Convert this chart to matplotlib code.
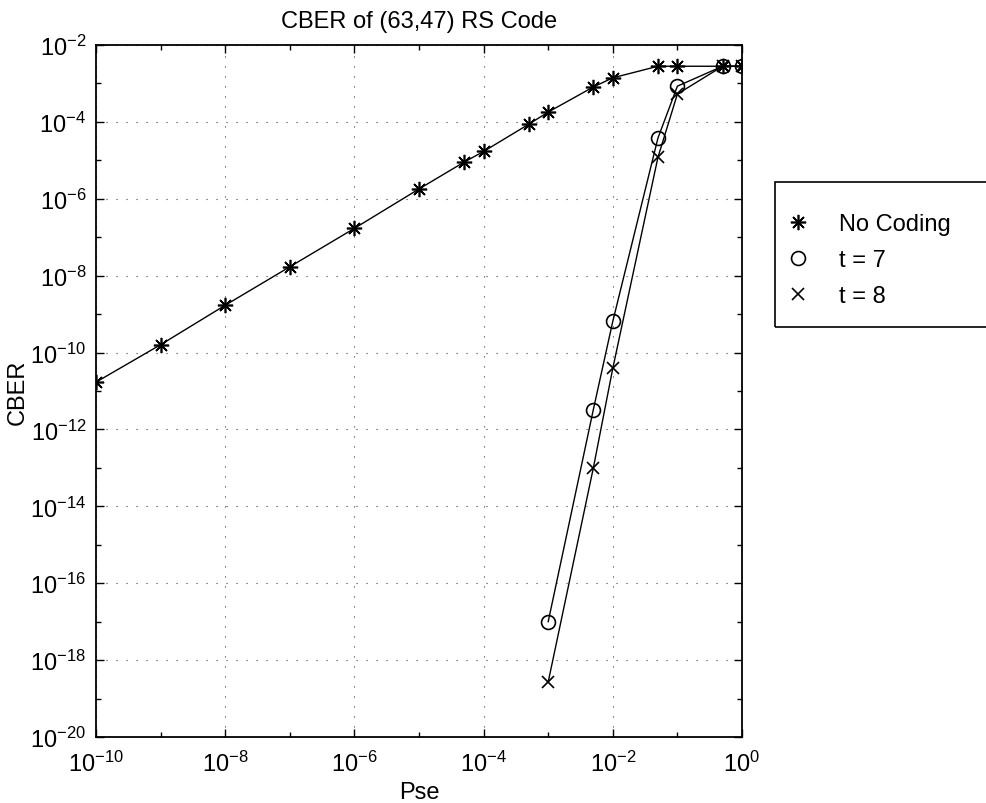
import numpy as np
import matplotlib
matplotlib.use("Agg")
import matplotlib.pyplot as plt
from matplotlib.ticker import NullFormatter
from matplotlib.patches import Rectangle

plt.rcParams['font.family'] = ['Liberation Sans', 'DejaVu Sans']
plt.rcParams['mathtext.fontset'] = 'custom'
plt.rcParams['mathtext.rm'] = 'Liberation Sans'
plt.rcParams['mathtext.it'] = 'Liberation Sans:italic'
plt.rcParams['mathtext.bf'] = 'Liberation Sans:bold'

# valores
pse_nc = [1e-10, 1e-9, 1e-8, 1e-7, 1e-6, 1e-5, 5e-5, 1e-4, 5e-4, 1e-3,
          5e-3, 1e-2, 5e-2, 1e-1, 5e-1, 1]
cber_nc = [1.7e-11, 1.6e-10, 1.7e-9, 1.7e-8, 1.7e-7, 1.8e-6, 9e-6, 1.7e-5,
           8.7e-5, 1.8e-4, 8.1e-4, 1.4e-3, 2.8e-3, 2.8e-3, 2.8e-3, 2.8e-3]

pse_t = [1e-3, 5e-3, 1e-2, 5e-2, 1e-1, 5e-1, 1]
cber_t7 = [1e-17, 3.3e-12, 6.5e-10, 3.8e-5, 8.5e-4, 2.8e-3, 2.8e-3]
cber_t8 = [2.7e-19, 1e-13, 3.9e-11, 1.2e-5, 5.3e-4, 2.8e-3, 2.8e-3]

series = [
    (pse_nc, cber_nc, (8, 2, 0), 11, 'No Coding'),
    (pse_t, cber_t7, 'o', 10, 't = 7'),
    (pse_t, cber_t8, 'x', 9, 't = 8'),
]

# limites en decadas
x_dec = (-10, 0)
y_dec = (-20, -2)

fs = 17

fig = plt.figure(figsize=(9.86, 8.04), dpi=100)
ax = fig.add_axes([96/986, 1-738/804, (742-96)/986, (738-46)/804])

for x, y, mk, ms, lab in series:
    ax.loglog(x, y, color='k', lw=1.0)
    ax.loglog(x, y, color='k', ls='none', marker=mk, ms=ms,
              mfc='none', mec='k', mew=1.2, label=lab)

ax.set_xlim(10.0**x_dec[0], 10.0**x_dec[1])
ax.set_ylim(10.0**y_dec[0], 10.0**y_dec[1])

ax.set_xticks(10.0**np.arange(x_dec[0], x_dec[1]+1, 2))
ax.set_xticks(10.0**np.arange(x_dec[0]+1, x_dec[1], 2), minor=True)
ax.set_yticks(10.0**np.arange(y_dec[0], y_dec[1]+1, 2))
ax.set_yticks(10.0**np.arange(y_dec[0]+1, y_dec[1], 2), minor=True)
ax.xaxis.set_minor_formatter(NullFormatter())
ax.yaxis.set_minor_formatter(NullFormatter())

ax.tick_params(which='both', direction='in', top=True, right=True,
               labelsize=fs, width=1.0)
ax.tick_params(which='major', length=6)
ax.tick_params(which='minor', length=3.5)
ax.tick_params(axis='x', which='major', pad=10)
ax.tick_params(axis='y', which='major', pad=7)

ax.grid(True, which='major', color='0.25', lw=0.8, ls=(0, (1, 8)))
for s in ax.spines.values():
    s.set_linewidth(1.3)

ax.set_title('CBER of (63,47) RS Code', fontsize=fs, pad=13)
ax.set_xlabel('Pse', fontsize=fs)
ax.set_ylabel('CBER', fontsize=fs)
ax.xaxis.set_label_coords(0.5, (738-782)/692)
ax.yaxis.set_label_coords((29-96)/646, 0.5)

# marco de la leyenda, cortado por el borde derecho como en el original
fig.add_artist(Rectangle((775/986, 1-328/804), 0.3, 145/804,
                         transform=fig.transFigure, fill=False,
                         ec='k', lw=1.2, clip_on=False))

leg = ax.legend(loc='upper left', bbox_to_anchor=(786/986, 1-214/804),
                bbox_transform=fig.transFigure, fontsize=fs, frameon=False,
                borderpad=0, handlelength=1.0, handletextpad=1.25,
                labelspacing=0.6, borderaxespad=0)

plt.savefig('out.png', dpi=100)
